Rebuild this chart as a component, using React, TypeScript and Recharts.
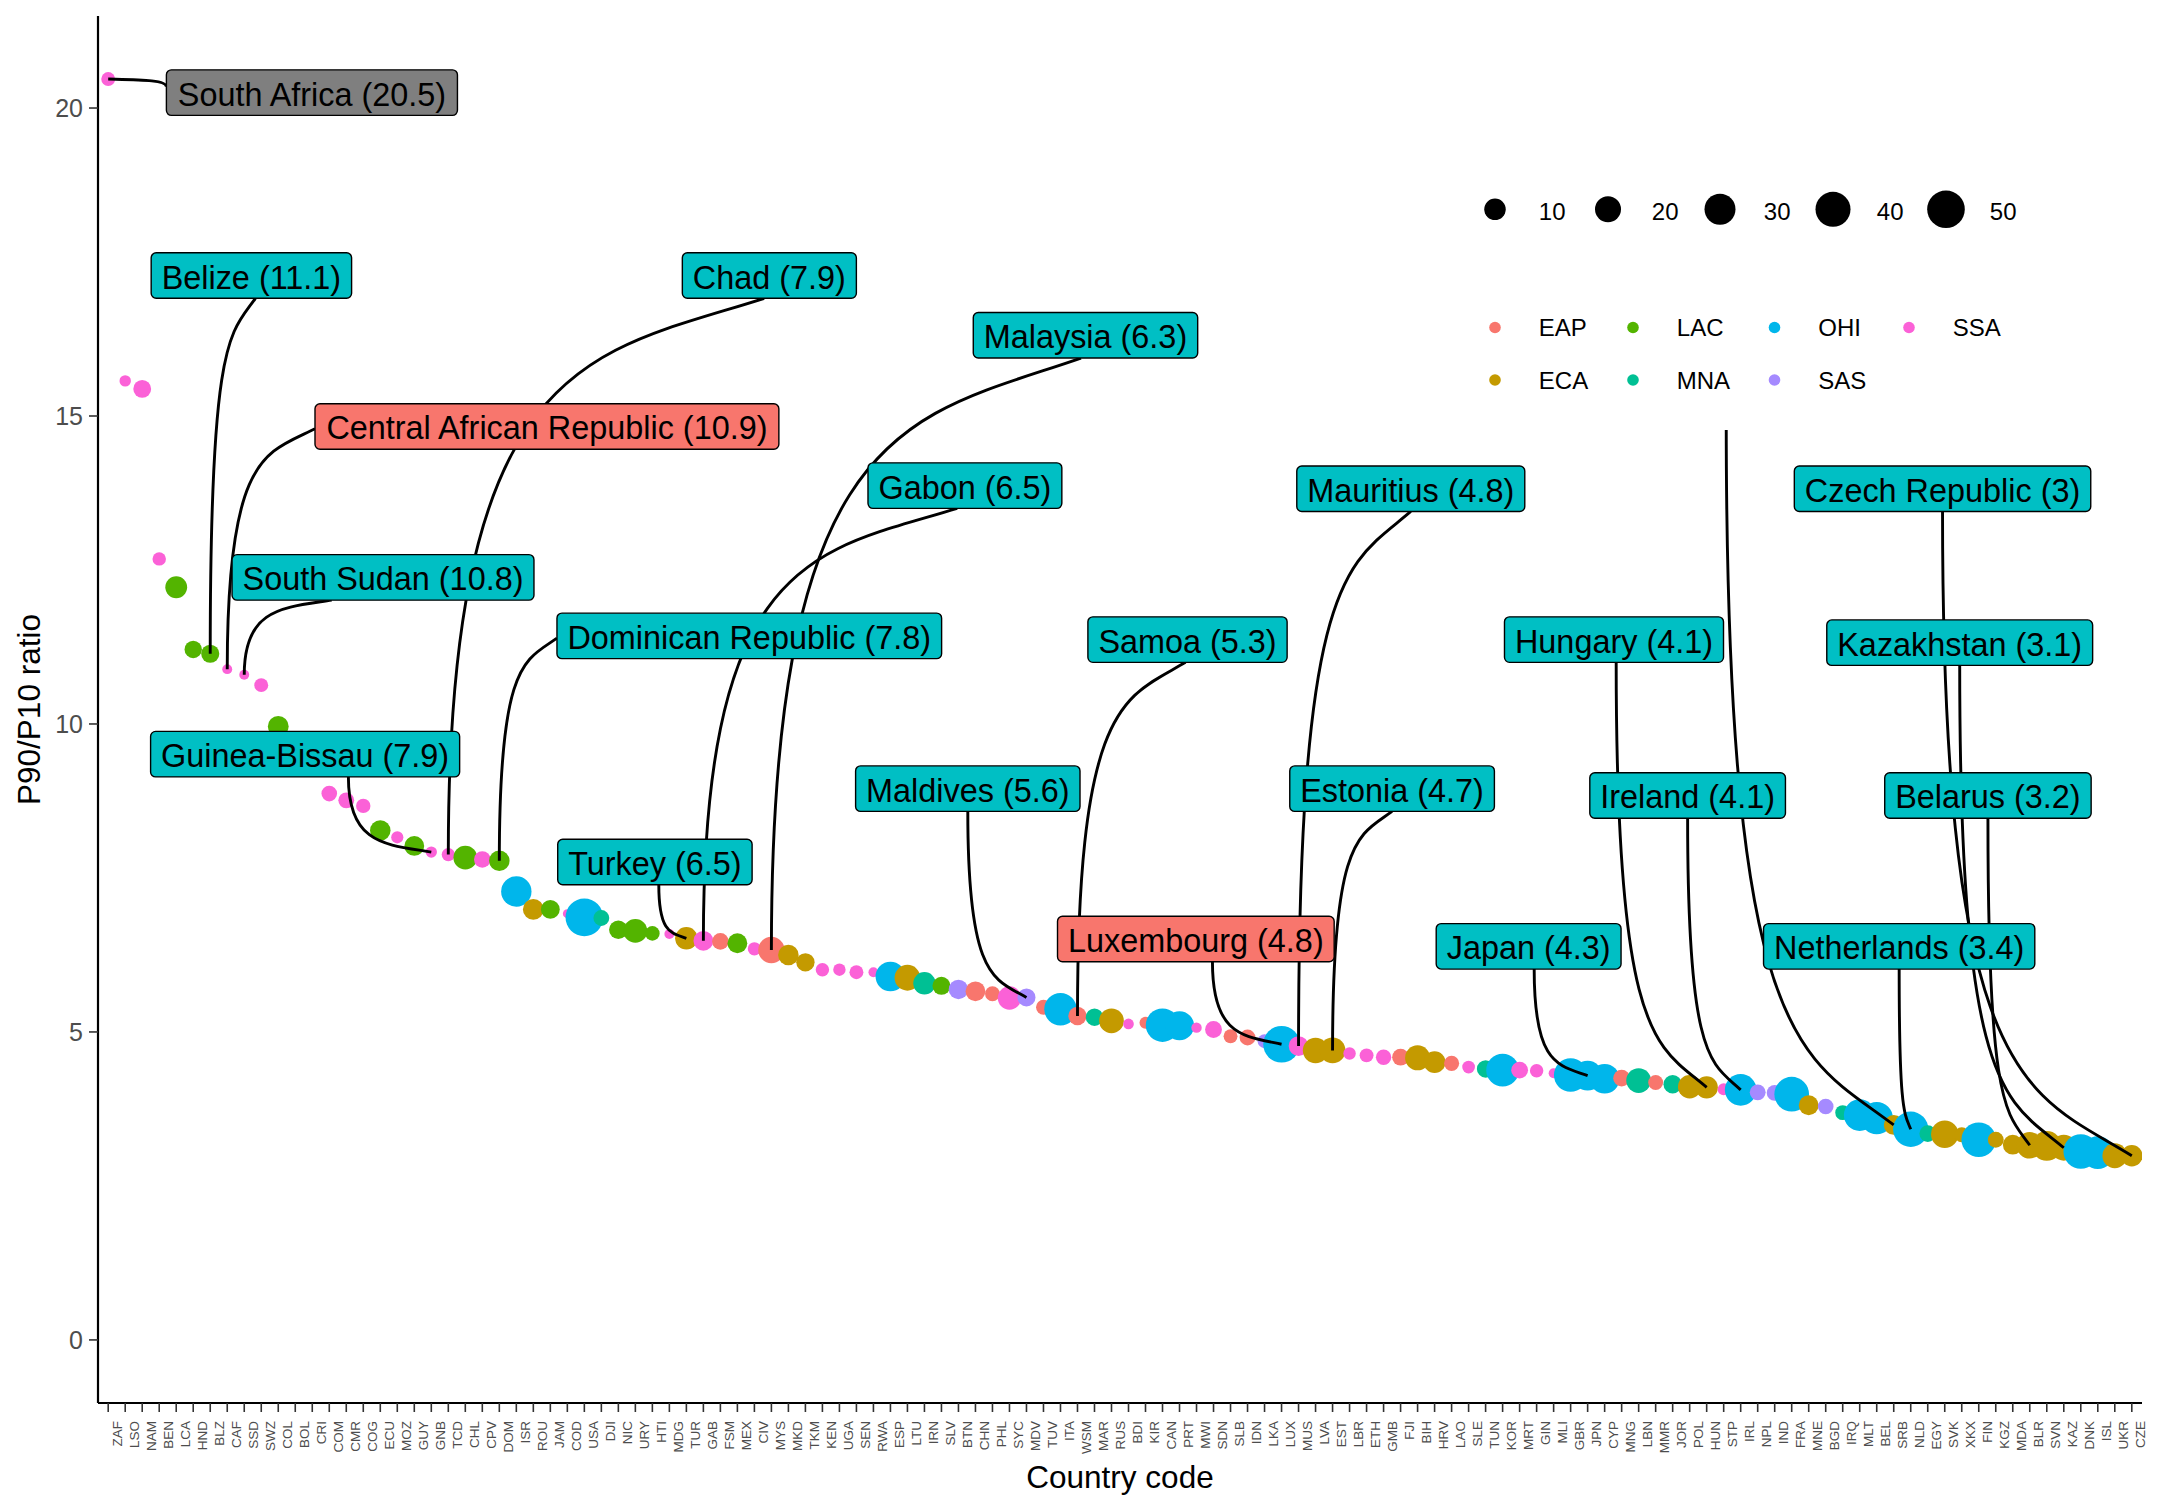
import React from 'react';
import {
  ScatterChart,
  Scatter,
  XAxis,
  YAxis,
  ZAxis,
  ReferenceLine,
  ReferenceDot,
  Legend,
  Label,
} from 'recharts';

// ---------------- data ----------------
const codes = [
  'ZAF','LSO','NAM','BEN','LCA','HND','BLZ','CAF','SSD','SWZ','COL','BOL','CRI','COM','CMR','COG','ECU','MOZ','GUY','GNB',
  'TCD','CHL','CPV','DOM','ISR','ROU','JAM','COD','USA','DJI','NIC','URY','HTI','MDG','TUR','GAB','FSM','MEX','CIV','MYS','MKD',
  'TKM','KEN','UGA','SEN','RWA','ESP','LTU','IRN','SLV','BTN','CHN','PHL','SYC','MDV','TUV','ITA','WSM','MAR','RUS','BDI',
  'KIR','CAN','PRT','MWI','SDN','SLB','IDN','LKA','LUX','MUS','LVA','EST','LBR','ETH','GMB','FJI','BIH','HRV','LAO','SLE','TUN',
  'KOR','MRT','GIN','MLI','GBR','JPN','CYP','MNG','LBN','MMR','JOR','POL','HUN','STP','IRL','NPL','IND','FRA','MNE','BGD','IRQ',
  'MLT','BEL','SRB','NLD','EGY','SVK','XKX','FIN','KGZ','MDA','BLR','SVN','KAZ','DNK','ISL','UKR','CZE',
];

const regions = [
  'SSA','SSA','SSA','SSA','LAC','LAC','LAC','SSA','SSA','SSA','LAC','LAC','LAC','SSA','SSA','SSA','LAC','SSA','LAC','SSA',
  'SSA','LAC','SSA','LAC','OHI','ECA','LAC','SSA','OHI','MNA','LAC','LAC','LAC','SSA','ECA','SSA','EAP','LAC','SSA','EAP','ECA',
  'ECA','SSA','SSA','SSA','SSA','OHI','ECA','MNA','LAC','SAS','EAP','EAP','SSA','SAS','EAP','OHI','EAP','MNA','ECA','SSA',
  'EAP','OHI','OHI','SSA','SSA','EAP','EAP','SAS','OHI','SSA','ECA','ECA','SSA','SSA','SSA','EAP','ECA','ECA','EAP','SSA','MNA',
  'OHI','SSA','SSA','SSA','OHI','OHI','OHI','EAP','MNA','EAP','MNA','ECA','ECA','SSA','OHI','SAS','SAS','OHI','ECA','SAS','MNA',
  'OHI','OHI','ECA','OHI','MNA','ECA','ECA','OHI','ECA','ECA','ECA','ECA','ECA','OHI','OHI','ECA','ECA',
];

const ratios = [
  20.47,15.57,15.44,12.68,12.22,11.21,11.14,10.89,10.8,10.63,9.96,9.7,9.45,8.87,8.76,8.67,8.27,8.16,8.02,7.92,
  7.88,7.83,7.8,7.78,7.28,6.99,6.99,6.92,6.86,6.85,6.66,6.64,6.6,6.59,6.52,6.48,6.47,6.44,6.35,6.33,6.25,
  6.13,6.01,6.01,5.97,5.97,5.9,5.88,5.79,5.75,5.69,5.66,5.62,5.55,5.56,5.4,5.37,5.26,5.24,5.18,5.13,
  5.15,5.11,5.1,5.07,5.04,4.93,4.91,4.85,4.8,4.77,4.7,4.7,4.65,4.62,4.59,4.59,4.58,4.51,4.49,4.43,4.4,
  4.38,4.38,4.37,4.33,4.3,4.29,4.24,4.25,4.21,4.18,4.15,4.11,4.1,4.07,4.06,4.02,4.01,3.99,3.81,3.79,3.69,
  3.65,3.6,3.49,3.42,3.35,3.34,3.33,3.25,3.25,3.17,3.16,3.15,3.12,3.06,3.04,2.99,2.99,
];

const sizes = [
  4.9,2.5,9.6,4.4,15.6,9.0,10.0,1.3,1.3,4.9,14.0,12.4,9.6,6.8,7.1,5.4,13.5,3.2,12.4,2.4,
  4.2,19.0,8.0,13.5,32.5,14.0,11.0,0.6,51.1,7.1,10.6,19.0,5.6,1.3,16.7,12.4,8.0,12.4,4.2,24.0,13.5,
  10.4,4.4,3.4,4.9,1.3,31.0,22.7,16.5,9.9,11.9,12.4,6.0,18.3,9.9,6.0,37.5,10.4,9.1,20.8,1.9,
  3.0,39.9,29.6,1.7,8.3,4.9,7.1,4.9,48.3,12.4,22.1,22.7,3.4,4.9,6.5,8.3,21.3,15.6,6.2,3.7,9.1,
  38.0,8.3,4.4,1.3,39.9,31.0,31.0,8.3,20.8,6.0,10.4,18.3,16.5,3.0,35.6,7.1,7.1,43.0,12.4,6.8,6.0,
  35.6,37.2,12.4,44.8,8.0,26.0,6.0,43.0,7.1,12.4,24.0,31.0,22.7,43.0,38.0,20.8,15.1,
];

const regionNames = ['EAP', 'ECA', 'LAC', 'MNA', 'OHI', 'SAS', 'SSA'];
const regionColors = ['#F8766D', '#C49A00', '#53B400', '#00C094', '#00B6EB', '#A58AFF', '#FB61D7'];
const sizeBreaks = [10, 20, 30, 40, 50];
const yTicks = [0, 5, 10, 15, 20];

// labelled countries
const labelCodes = ['ZAF','BLZ','TCD','MYS','CAF','GAB','MUS','CZE','SSD','DOM','WSM','HUN','KAZ','GNB','MDV','EST','IRL','BLR','TUR','LUX','JPN','NLD'];
const labelTexts = [
  'South Africa (20.5)','Belize (11.1)','Chad (7.9)','Malaysia (6.3)','Central African Republic (10.9)','Gabon (6.5)',
  'Mauritius (4.8)','Czech Republic (3)','South Sudan (10.8)','Dominican Republic (7.8)','Samoa (5.3)','Hungary (4.1)',
  'Kazakhstan (3.1)','Guinea-Bissau (7.9)','Maldives (5.6)','Estonia (4.7)','Ireland (4.1)','Belarus (3.2)','Turkey (6.5)',
  'Luxembourg (4.8)','Japan (4.3)','Netherlands (3.4)',
];
const labelGroups = ['grey','b','b','b','a','b','b','b','b','b','b','b','b','b','b','b','b','b','b','a','b','b'];

// ---------------- layout (label placement, in axis units) ----------------
const labelLayout = [
  { x: 11.98, y: 20.25, side: 'left', f: 0.37 },
  { x: 8.42, y: 17.28, side: 'bottom', f: 0.52 },
  { x: 38.88, y: 17.28, side: 'bottom', f: 0.47 },
  { x: 57.47, y: 16.31, side: 'bottom', f: 0.48 },
  { x: 25.8, y: 14.83, side: 'left', f: 0.55 },
  { x: 50.38, y: 13.87, side: 'bottom', f: 0.46 },
  { x: 76.6, y: 13.82, side: 'bottom', f: 0.5 },
  { x: 107.87, y: 13.82, side: 'bottom', f: 0.5 },
  { x: 16.16, y: 12.38, side: 'bottom', f: 0.33 },
  { x: 37.7, y: 11.43, side: 'left', f: 0.55 },
  { x: 63.47, y: 11.37, side: 'bottom', f: 0.49 },
  { x: 88.55, y: 11.37, side: 'bottom', f: 0.51 },
  { x: 108.88, y: 11.32, side: 'bottom', f: 0.5 },
  { x: 11.58, y: 9.51, side: 'bottom', f: 0.64 },
  { x: 50.55, y: 8.95, side: 'bottom', f: 0.5 },
  { x: 75.5, y: 8.95, side: 'bottom', f: 0.5 },
  { x: 92.88, y: 8.84, side: 'bottom', f: 0.5 },
  { x: 110.54, y: 8.84, side: 'bottom', f: 0.5 },
  { x: 32.15, y: 7.76, side: 'bottom', f: 0.52 },
  { x: 63.96, y: 6.51, side: 'bottom', f: 0.56 },
  { x: 83.53, y: 6.39, side: 'bottom', f: 0.53 },
  { x: 105.32, y: 6.39, side: 'bottom', f: 0.5 },
];
// a label hidden under the legend: only its leader line is visible
const hiddenLeader = { code: 'SRB', x: 95.15, y: 14.94 };

const FONT = "'Liberation Sans', Arial, Helvetica, sans-serif";
const LABEL_FS = 32.4;
const LABEL_PAD = 10.5;
const LABEL_H = 45.5;
const groupFill: Record<string, string> = { a: '#F8766D', b: '#00BFC4', grey: '#7F7F7F' };

const points = codes.map((c, i) => ({ i, code: c, region: regions[i], ratio: ratios[i], s: sizes[i] }));
const colorOf = (r: string) => regionColors[regionNames.indexOf(r)];
const idxOf = (c: string) => codes.indexOf(c);

let measureCtx: CanvasRenderingContext2D | null = null;
function textWidth(t: string): number {
  if (!measureCtx) {
    const c = document.createElement('canvas');
    measureCtx = c.getContext('2d');
  }
  if (!measureCtx) return t.length * LABEL_FS * 0.55;
  measureCtx.font = `${LABEL_FS}px ${FONT}`;
  return measureCtx.measureText(t).width;
}
const boxWidth = (t: string) => textWidth(t) + 2 * LABEL_PAD;

// skewed curve: long straight vertical leg, bend near the end of it
function leaderPath(px: number, py: number, sx: number, sy: number) {
  const verticalFirst = -(sy - py) * (sx - px) > 0;
  let c1x: number, c1y: number, c2x: number, c2y: number;
  if (verticalFirst) {
    c1x = px;
    c1y = py + 0.9 * (sy - py);
    c2x = sx + 0.55 * (px - sx);
    c2y = sy + 0.1 * (py - sy);
  } else {
    c1x = px + 0.55 * (sx - px);
    c1y = py + 0.1 * (sy - py);
    c2x = sx;
    c2y = sy + 0.9 * (py - sy);
  }
  return `M${px},${py} C${c1x},${c1y} ${c2x},${c2y} ${sx},${sy}`;
}

const makeLeader = (li: number) => (props: any) => {
  const { x1, y1, x2, y2 } = props;
  if ([x1, y1, x2, y2].some((v) => v == null || isNaN(v))) return <g />;
  let sx = x2;
  let sy = y2;
  if (li >= 0) {
    const lay = labelLayout[li];
    const w = boxWidth(labelTexts[li]);
    if (lay.side === 'left') {
      sx = x2 - w / 2;
      sy = y2 - LABEL_H / 2 + lay.f * LABEL_H;
    } else {
      sx = x2 - w / 2 + lay.f * w;
      sy = y2 + LABEL_H / 2;
    }
  }
  return <path d={leaderPath(x1, y1, sx, sy)} fill="none" stroke="#000" strokeWidth={2.9} />;
};

const makeLabelBox = (li: number) => (props: any) => {
  const { cx, cy } = props;
  if (cx == null || cy == null) return <g />;
  const t = labelTexts[li];
  const w = boxWidth(t);
  return (
    <g>
      <rect
        x={cx - w / 2}
        y={cy - LABEL_H / 2}
        width={w}
        height={LABEL_H}
        rx={5}
        ry={5}
        fill={groupFill[labelGroups[li]]}
        stroke="#000"
        strokeWidth={1.4}
      />
      <text x={cx} y={cy + 0.4 * LABEL_FS} textAnchor="middle" fontSize={LABEL_FS} fontFamily={FONT} fill="#000">
        {t}
      </text>
    </g>
  );
};

const PointShape = (props: any) => {
  const { cx, cy, payload } = props;
  if (cx == null || cy == null) return <g />;
  const r = props.size != null ? Math.sqrt(props.size / Math.PI) : (props.width || 10) / 2;
  return <circle cx={cx} cy={cy} r={r} fill={colorOf(payload.region)} />;
};

const XTick = (props: any) => {
  const { x, y, payload } = props;
  const code = codes[payload.value];
  const tx = x + 13.4;
  const ty = y + 9;
  return (
    <text x={tx} y={ty} transform={`rotate(-90, ${tx}, ${ty})`} textAnchor="end" fontSize={13.5} fill="#4D4D4D" fontFamily={FONT}>
      {code}
    </text>
  );
};

const legendSizeDiam = [21.5, 26, 31, 35, 37.6];
const LegendContent = () => {
  const sizeX = [35, 148, 260, 373, 486];
  const colX = [35, 173, 314.5, 449];
  return (
    <svg width={600} height={260} style={{ display: 'block' }}>
      <rect x={0} y={0} width={600} height={260} fill="#fff" />
      {sizeBreaks.map((b, k) => (
        <g key={`s${b}`}>
          <circle cx={sizeX[k]} cy={39.3} r={legendSizeDiam[k] / 2} fill="#000" />
          <text x={sizeX[k] + 43.8} y={50} fontSize={24} fontFamily={FONT} fill="#000">
            {b}
          </text>
        </g>
      ))}
      {regionNames.map((r, k) => {
        const row = k % 2;
        const col = Math.floor(k / 2);
        const cy = row === 0 ? 157.5 : 210;
        return (
          <g key={r}>
            <circle cx={colX[col]} cy={cy} r={5.8} fill={regionColors[k]} />
            <text x={colX[col] + 43.8} y={cy + 8.6} fontSize={24} fontFamily={FONT} fill="#000">
              {r}
            </text>
          </g>
        );
      })}
    </svg>
  );
};

export default function App() {
  return (
    <div style={{ position: 'absolute', left: 0, top: 0, width: 2160, height: 1512, background: '#fff' }}>
      <ScatterChart
        width={2160}
        height={1512}
        margin={{ top: 16, right: 18, bottom: 0, left: 0 }}
        style={{ fontFamily: FONT }}
      >
        <XAxis
          type="number"
          dataKey="i"
          domain={[-0.6, 119.6]}
          ticks={points.map((p) => p.i)}
          interval={0}
          allowDataOverflow
          height={109}
          tickSize={9}
          tickMargin={0}
          tick={<XTick />}
          tickLine={{ stroke: '#333333', strokeWidth: 1.6 }}
          axisLine={{ stroke: '#000', strokeWidth: 2.2 }}
        >
          <Label
            content={(p: any) => {
              const vb = p.viewBox || { x: 98, y: 1403, width: 2044, height: 109 };
              return (
                <text x={vb.x + vb.width / 2} y={vb.y + 85} textAnchor="middle" fontSize={31.5} fontFamily={FONT} fill="#000">
                  Country code
                </text>
              );
            }}
          />
        </XAxis>
        <YAxis
          type="number"
          dataKey="ratio"
          domain={[-1.024, 21.494]}
          ticks={yTicks}
          allowDataOverflow
          width={98}
          tickSize={9}
          tickMargin={6}
          tick={{ fontSize: 25, fill: '#4D4D4D', fontFamily: FONT }}
          tickLine={{ stroke: '#333333', strokeWidth: 1.6 }}
          axisLine={{ stroke: '#000', strokeWidth: 2.2 }}
        >
          <Label
            content={(p: any) => {
              const vb = p.viewBox || { x: 0, y: 16, width: 98, height: 1387 };
              const tx = 40;
              const ty = vb.y + vb.height / 2;
              return (
                <text x={tx} y={ty} transform={`rotate(-90, ${tx}, ${ty})`} textAnchor="middle" fontSize={31.5} fontFamily={FONT} fill="#000">
                  P90/P10 ratio
                </text>
              );
            }}
          />
        </YAxis>
        <ZAxis type="number" dataKey="s" domain={[0, 50]} range={[50.27, 1110.5]} />
        <Scatter data={points} shape={<PointShape />} isAnimationActive={false} zIndex={600} />
        {labelCodes.map((c, li) => {
          const i = idxOf(c);
          return (
            <ReferenceLine
              key={`l${c}`}
              segment={[
                { x: i, y: ratios[i] },
                { x: labelLayout[li].x, y: labelLayout[li].y },
              ]}
              shape={makeLeader(li)}
              ifOverflow="visible"
              zIndex={700}
            />
          );
        })}
        <ReferenceLine
          segment={[
            { x: idxOf(hiddenLeader.code), y: ratios[idxOf(hiddenLeader.code)] },
            { x: hiddenLeader.x, y: hiddenLeader.y },
          ]}
          shape={makeLeader(-1)}
          ifOverflow="visible"
          zIndex={700}
        />
        {labelCodes.map((c, li) => (
          <ReferenceDot
            key={`d${c}`}
            x={labelLayout[li].x}
            y={labelLayout[li].y}
            r={0}
            shape={makeLabelBox(li)}
            ifOverflow="visible"
            zIndex={800}
          />
        ))}
        <Legend
          layout="vertical"
          align="center"
          verticalAlign="middle"
          wrapperStyle={{ position: 'absolute', left: 1460, top: 170, width: 600, height: 250 }}
          content={<LegendContent />}
        />
      </ScatterChart>
    </div>
  );
}
